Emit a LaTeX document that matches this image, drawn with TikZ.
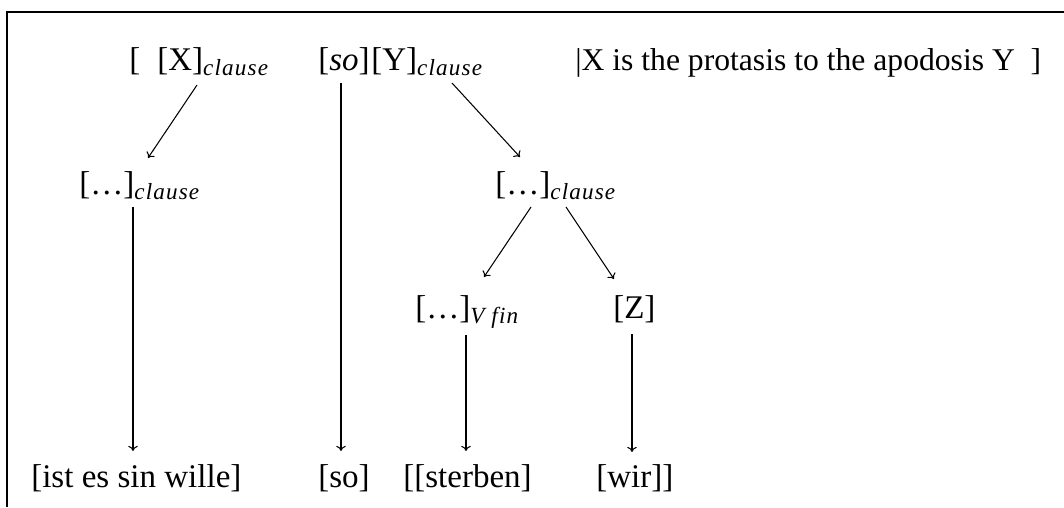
\documentclass[tikz,border=0pt]{standalone}
\usepackage{fontspec}
\setmainfont{Liberation Serif}
\usetikzlibrary{arrows.meta, calc}
\newcommand\subtag[1]{\textsubscript{\itshape\addfontfeatures{LetterSpace=5}#1}}

\begin{document}
\begin{tikzpicture}[x=0.025cm, y=-0.025cm, every node/.style={font=\fontsize{23.5}{28}\selectfont},
  word/.style={anchor=base west, inner sep=0pt},
  arr/.style={-{To[length=1.3mm, width=2.4mm]}, line width=0.75pt}]
  \useasboundingbox (0,0) rectangle (1064,507);
  \draw[line width=0.8pt] (1064,12) -- (7,12) -- (7,507);

  \node[word] (open) at (129,70) {[};
  \node[word] (xcl) at (157,70) {[X]\subtag{clause}};
  \node[word] (sotop) at (318,70) {[\textit{so}]};
  \node[word] (ycl) at (371,70) {[Y]\subtag{clause}};
  \node[word, font=\fontsize{22.5}{27}\selectfont] (gloss) at (575,70) {\textbar X is the protasis to the apodosis Y\enspace]};

  \node[word] (lcl) at (79,194) {[\ldots]\subtag{clause}};
  \node[word] (mcl) at (495,194) {[\ldots]\subtag{clause}};
  \node[word] (vfin) at (415,318) {[\ldots]\subtag{V fin}};
  \node[word] (z) at (613,318) {[Z]};

  \node[word] (ist) at (31,487) {[ist es sin wille]};
  \node[word] (sobot) at (318,487) {[so]};
  \node[word] (sterben) at (403,487) {[[sterben]};
  \node[word] (wir) at (596,487) {[wir]]};

  \draw[arr] ($(xcl.base west)+(40,15)$) -- ($(lcl.base west)+(69,-36)$);
  \draw[arr] ($(sotop.base west)+(23,13)$) -- ($(sobot.base west)+(23,-36)$);
  \draw[arr] ($(ycl.base west)+(81,13)$) -- ($(mcl.base west)+(25,-37)$);
  \draw[arr] ($(lcl.base west)+(54,13)$) -- ($(ist.base west)+(102,-36)$);
  \draw[arr] ($(mcl.base west)+(36,13)$) -- ($(vfin.base west)+(69,-41)$);
  \draw[arr] ($(mcl.base west)+(71,13)$) -- ($(z.base west)+(1,-39)$);
  \draw[arr] ($(vfin.base west)+(51,17)$) -- ($(sterben.base west)+(63,-36)$);
  \draw[arr] ($(z.base west)+(19,16)$) -- ($(wir.base west)+(36,-35)$);
\end{tikzpicture}
\end{document}
